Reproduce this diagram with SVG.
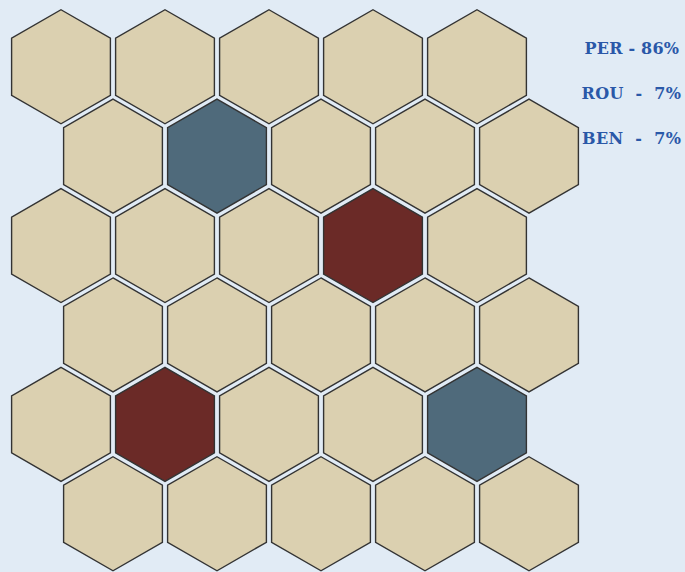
<svg xmlns="http://www.w3.org/2000/svg" xmlns:xlink="http://www.w3.org/1999/xlink" width="685" height="572" viewBox="0 0 685 572">
<style>
.h{stroke:#333;stroke-width:1.4;stroke-linejoin:miter}
.t{fill:#dbd0b0}
.b{fill:#4f6a7b}
.r{fill:#6b2a27}
.lbl{font-family:"DejaVu Serif",serif;font-weight:bold;font-size:16px;fill:#2a58a8;white-space:pre}
</style>
<defs>
<polygon id="hex" points="0,-57 49.4,-28.5 49.4,28.5 0,57 -49.4,28.5 -49.4,-28.5"/>
</defs>
<rect width="685" height="572" fill="#e1ebf5"/>
<g id="hexes">
<g id="h0-0"><use xlink:href="#hex" href="#hex" class="h t" x="61" y="66.75"/></g>
<g id="h0-1"><use xlink:href="#hex" href="#hex" class="h t" x="165" y="66.75"/></g>
<g id="h0-2"><use xlink:href="#hex" href="#hex" class="h t" x="269" y="66.75"/></g>
<g id="h0-3"><use xlink:href="#hex" href="#hex" class="h t" x="373" y="66.75"/></g>
<g id="h0-4"><use xlink:href="#hex" href="#hex" class="h t" x="477" y="66.75"/></g>

<g id="h1-0"><use xlink:href="#hex" href="#hex" class="h t" x="113" y="156.15"/></g>
<g id="h1-1"><use xlink:href="#hex" href="#hex" class="h b" x="217" y="156.15"/></g>
<g id="h1-2"><use xlink:href="#hex" href="#hex" class="h t" x="321" y="156.15"/></g>
<g id="h1-3"><use xlink:href="#hex" href="#hex" class="h t" x="425" y="156.15"/></g>
<g id="h1-4"><use xlink:href="#hex" href="#hex" class="h t" x="529" y="156.15"/></g>

<g id="h2-0"><use xlink:href="#hex" href="#hex" class="h t" x="61" y="245.55"/></g>
<g id="h2-1"><use xlink:href="#hex" href="#hex" class="h t" x="165" y="245.55"/></g>
<g id="h2-2"><use xlink:href="#hex" href="#hex" class="h t" x="269" y="245.55"/></g>
<g id="h2-3"><use xlink:href="#hex" href="#hex" class="h r" x="373" y="245.55"/></g>
<g id="h2-4"><use xlink:href="#hex" href="#hex" class="h t" x="477" y="245.55"/></g>

<g id="h3-0"><use xlink:href="#hex" href="#hex" class="h t" x="113" y="334.95"/></g>
<g id="h3-1"><use xlink:href="#hex" href="#hex" class="h t" x="217" y="334.95"/></g>
<g id="h3-2"><use xlink:href="#hex" href="#hex" class="h t" x="321" y="334.95"/></g>
<g id="h3-3"><use xlink:href="#hex" href="#hex" class="h t" x="425" y="334.95"/></g>
<g id="h3-4"><use xlink:href="#hex" href="#hex" class="h t" x="529" y="334.95"/></g>

<g id="h4-0"><use xlink:href="#hex" href="#hex" class="h t" x="61" y="424.35"/></g>
<g id="h4-1"><use xlink:href="#hex" href="#hex" class="h r" x="165" y="424.35"/></g>
<g id="h4-2"><use xlink:href="#hex" href="#hex" class="h t" x="269" y="424.35"/></g>
<g id="h4-3"><use xlink:href="#hex" href="#hex" class="h t" x="373" y="424.35"/></g>
<g id="h4-4"><use xlink:href="#hex" href="#hex" class="h b" x="477" y="424.35"/></g>

<g id="h5-0"><use xlink:href="#hex" href="#hex" class="h t" x="113" y="513.75"/></g>
<g id="h5-1"><use xlink:href="#hex" href="#hex" class="h t" x="217" y="513.75"/></g>
<g id="h5-2"><use xlink:href="#hex" href="#hex" class="h t" x="321" y="513.75"/></g>
<g id="h5-3"><use xlink:href="#hex" href="#hex" class="h t" x="425" y="513.75"/></g>
<g id="h5-4"><use xlink:href="#hex" href="#hex" class="h t" x="529" y="513.75"/></g>
</g>
<g id="legend">
<text class="lbl" x="584.5" y="54" textLength="94.5" lengthAdjust="spacing" xml:space="preserve">PER - 86%</text>
<text class="lbl" x="581.5" y="99" textLength="99.5" lengthAdjust="spacing" xml:space="preserve">ROU  -  7%</text>
<text class="lbl" x="582" y="144" textLength="99" lengthAdjust="spacing" xml:space="preserve">BEN  -  7%</text>
</g>
</svg>
